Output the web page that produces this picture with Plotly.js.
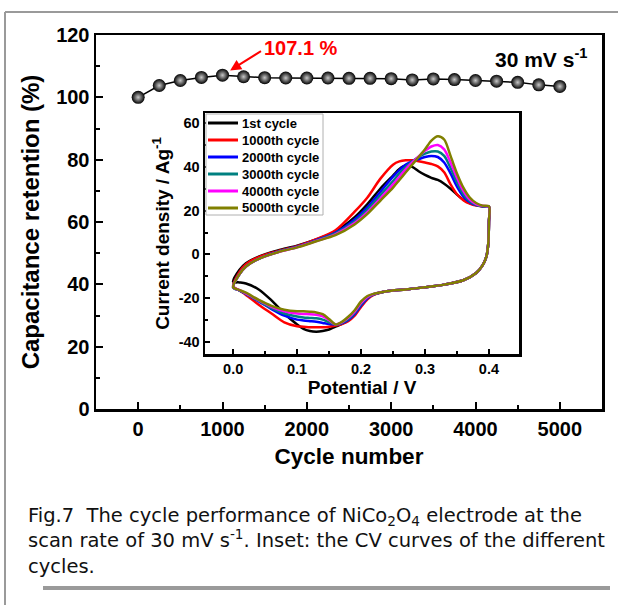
<!DOCTYPE html>
<html>
<head>
<meta charset="utf-8">
<script src="https://cdn.plot.ly/plotly-3.0.1.min.js"></script>
<style>html,body{margin:0;padding:0;background:#fff;}#chart{width:618px;height:605px;}</style>
</head>
<body>
<div id="chart"></div>
<script>
// ---- Main chart data: capacitance retention vs cycle number ----
const cycles = [0,250,500,750,1000,1250,1500,1750,2000,2250,2500,2750,3000,3250,3500,3750,4000,4250,4500,4750,5000];
const retention = [100.0,103.8,105.4,106.4,107.1,106.6,106.3,106.2,106.2,106.2,106.1,106.1,106.0,105.6,105.9,105.7,105.4,105.2,104.8,104.0,103.5];

// ---- Inset data: CV curves ----
const cycleNames = ['1st cycle','1000th cycle','2000th cycle','3000th cycle','4000th cycle','5000th cycle'];
const cycleColors = ['#000000','#ff0000','#0000ff','#008080','#ff00ff','#808000'];
const potUp   = [0.00,0.01,0.02,0.04,0.07,0.10,0.13,0.16,0.19,0.21,0.23,0.25,0.26,0.27,0.28,0.29,0.30,0.31,0.32,0.33,0.34,0.35,0.36,0.37,0.38,0.39,0.40];
const potDown = [0.40,0.399,0.396,0.39,0.38,0.36,0.33,0.30,0.27,0.24,0.22,0.21,0.20,0.19,0.18,0.17,0.16,0.15,0.14,0.13,0.12,0.11,0.10,0.08,0.06,0.04,0.02,0.01,0.00];

const up1st    = [-12.5,-7,-4,-1,1.8,4,6.8,10.5,17,23,30,36,39,40.7,40,38,36.3,35,34,32.3,30,27.3,25,23.4,22.5,22,21.8];
const up1000   = [-14.5,-8,-4.5,-1.2,1.5,3.8,7,11,19.5,26,34.5,41,42.5,43,43,42.6,42,41.3,40.2,37.5,32,27.5,24.8,23.2,22.3,22,21.8];
const up2000   = [-15,-9,-5.5,-2,1.2,3.5,6.5,10,16,21.5,28.5,35.5,38.5,41,42.5,43.5,44.5,45,44.5,42,37,31,26.5,23.8,22.5,22,21.8];
const up3000   = [-15,-9,-5.5,-2,1.1,3.4,6.3,9.6,15,20.5,27,33.5,37,40,42.5,44.5,46,47,47,45,39.5,33,27.5,24.3,22.7,22,21.8];
const up4000   = [-15,-9,-5.5,-2,1,3.3,6.1,9.2,14.3,19.3,25.5,32,35.5,39,42,44.8,47.3,49.3,50,48,42,35,29,25,23,22.2,21.8];
const up5000   = [-15,-9,-5.5,-2,1,3.2,6,8.8,13.7,18.5,24.5,30.5,34,37.5,41,44.5,48,52,54,52.5,45,37,30.5,26,23.5,22.3,22];

const down1st  = [15,5,-1,-5,-8.5,-11.8,-13.8,-15,-16,-16.8,-18.2,-19.8,-23,-27,-29.8,-31.8,-33,-34.3,-35,-35.3,-35,-34,-32,-27,-21,-16,-13.3,-12.8,-12.5];
const down1000 = [15,5,-1,-5,-8.5,-11.8,-13.8,-15,-16,-16.8,-18.5,-20.5,-24,-28,-30.5,-31.8,-32.5,-33,-33.3,-33.3,-33.3,-33,-32.8,-31,-27,-23,-18.5,-16.5,-14.5];
const down2000 = [15,5,-1,-5,-8.5,-11.8,-13.8,-15,-16,-16.8,-18.3,-20,-23.3,-27.3,-30,-31.5,-32,-31.8,-31.3,-30.8,-30.5,-30.2,-29.8,-28,-25,-21.5,-18,-16.5,-15];
const down3000 = [15,5,-1,-5,-8.5,-11.8,-13.8,-15,-16,-16.8,-18.2,-19.7,-22.7,-26.7,-29.5,-31.3,-32,-31,-29.8,-29.2,-29,-28.8,-28.4,-27,-24.5,-21.3,-18,-16.5,-15];
const down4000 = [15,5,-1,-5,-8.5,-11.8,-13.8,-15,-16,-16.8,-18.1,-19.4,-22.2,-26.2,-29,-31,-32,-30,-28.3,-27.6,-27.3,-27.2,-27,-26,-24,-21,-17.8,-16.3,-15];
const down5000 = [15,5,-1,-5,-8.5,-11.8,-13.8,-15,-16,-16.8,-18,-19,-21.5,-25.5,-28.5,-30.8,-32,-29.5,-27.3,-26.5,-26.2,-26,-26,-25.3,-23.5,-20.8,-17.5,-16.3,-15];

const cvUp = [up1st, up1000, up2000, up3000, up4000, up5000];
const cvDown = [down1st, down1000, down2000, down3000, down4000, down5000];

// inset tick labels (hyphen minus as in the original)
const insetYTicks = [-40,-20,0,20,40,60];
const insetYLabels = ['-40','-20','0','20','40','60'];

// caption lines
const captionLines = [
  'Fig.7\u00a0 The cycle performance of NiCo<sub>2</sub>O<sub>4</sub> electrode at the',
  'scan rate of 30 mV s<sup>-1</sup>. Inset: the CV curves of the different',
  'cycles.'
];

const FONT = 'Liberation Sans, Arial, sans-serif';
const bold = (size, color) => ({family: FONT, size: size, color: color || '#000', weight: 700});

const traces = [];
traces.push({
  x: cycles, y: retention, xaxis: 'x', yaxis: 'y', type: 'scatter', mode: 'lines+markers',
  showlegend: false,
  line: {color: '#000', width: 1.5},
  marker: {size: 13, color: '#000', gradient: {type: 'radial', color: '#c8c8c8'}, line: {width: 0}}
});
for (let i = 0; i < cycleNames.length; i++) {
  traces.push({
    x: potUp.concat(potDown), y: cvUp[i].concat(cvDown[i]),
    xaxis: 'x2', yaxis: 'y2', type: 'scatter', mode: 'lines',
    name: cycleNames[i], showlegend: false,
    line: {color: cycleColors[i], width: 2.5, shape: 'spline', smoothing: 0.8}
  });
}

// peak annotation from data
let peakIdx = 0;
retention.forEach((v, i) => { if (v > retention[peakIdx]) peakIdx = i; });
const peakX = cycles[peakIdx], peakY = retention[peakIdx];

// pixel -> paper helpers (plot area 96..602 x 35..409)
const L = 96, T = 35, W = 506, H = 374;
const px = p => (p - L) / W;
const py = p => (T + H - p) / H;

const shapes = [
  {type: 'line', xref: 'paper', yref: 'paper', x0: px(5), x1: px(5), y0: py(12), y1: py(605), line: {color: '#9a9a9a', width: 2}},
  {type: 'line', xref: 'paper', yref: 'paper', x0: px(5), x1: px(618), y0: py(12), y1: py(12), line: {color: '#9a9a9a', width: 2}},
  {type: 'rect', xref: 'paper', yref: 'paper', x0: px(43), x1: px(610), y0: py(586), y1: py(590), fillcolor: '#9a9a9a', line: {width: 0}},
  // inset legend box
  {type: 'rect', xref: 'paper', yref: 'paper', x0: px(206), x1: px(323), y0: py(215), y1: py(114), fillcolor: '#fff', line: {color: '#b0b0b0', width: 1}}
];

const annotations = [
  {xref: 'x', yref: 'y', x: peakX, y: peakY, text: '', showarrow: true,
   ax: 40, ay: -25, arrowhead: 2, arrowsize: 1.1, arrowwidth: 2, arrowcolor: '#ff0000', standoff: 9},
  {xref: 'paper', yref: 'paper', x: px(262), y: py(48), xanchor: 'left', yanchor: 'middle',
   text: peakY.toFixed(1) + ' %', showarrow: false, font: bold(20, '#ff0000')},
  {xref: 'paper', yref: 'paper', x: px(589), y: py(58), xanchor: 'right', yanchor: 'middle',
   text: '30 mV s<sup>-1</sup>', showarrow: false, font: bold(21)},
  {xref: 'paper', yref: 'paper', x: px(26), y: py(541), xanchor: 'left', yanchor: 'middle', align: 'left',
   text: captionLines.join('<br>'), showarrow: false,
   font: {family: 'DejaVu Sans, sans-serif', size: 19.5, color: '#111'}}
];

// inset legend entries (line sample + label) built from the series names/colours
for (let i = 0; i < cycleNames.length; i++) {
  const yy = py(123 + 17 * i);
  shapes.push({type: 'line', xref: 'paper', yref: 'paper', x0: px(208), x1: px(238), y0: yy, y1: yy,
               line: {color: cycleColors[i], width: 3}});
  annotations.push({xref: 'paper', yref: 'paper', x: px(240), y: yy, xanchor: 'left', yanchor: 'middle',
                    text: cycleNames[i], showarrow: false, font: bold(13)});
}

const layout = {
  width: 618, height: 605,
  margin: {l: L, r: 618 - L - W, t: T, b: 605 - T - H, pad: 0},
  paper_bgcolor: '#fff', plot_bgcolor: '#fff',
  showlegend: false,
  xaxis: {
    domain: [0, 1], anchor: 'y', range: [-500, 5500],
    tick0: 0, dtick: 1000, ticks: 'inside', ticklen: 7, tickwidth: 2, tickcolor: '#000',
    minor: {dtick: 500, ticks: 'inside', ticklen: 4, tickwidth: 2, tickcolor: '#000'},
    showline: true, linewidth: 2.5, linecolor: '#000', mirror: true,
    showgrid: false, zeroline: false, tickfont: bold(20),
    title: {text: 'Cycle number', font: bold(22.5), standoff: 10}
  },
  yaxis: {
    domain: [0, 1], anchor: 'x', range: [0, 120],
    tick0: 0, dtick: 20, ticks: 'inside', ticklen: 7, tickwidth: 2, tickcolor: '#000',
    minor: {dtick: 10, ticks: 'inside', ticklen: 4, tickwidth: 2, tickcolor: '#000'},
    showline: true, linewidth: 2.5, linecolor: '#000', mirror: true,
    showgrid: false, zeroline: false, tickfont: bold(20),
    title: {text: 'Capacitance retention (%)', font: bold(24), standoff: 10}
  },
  xaxis2: {
    domain: [px(205), px(519)], anchor: 'y2', range: [-0.044, 0.447],
    tick0: 0, dtick: 0.1, tickformat: '.1f', ticks: 'inside', ticklen: 5, tickwidth: 2, tickcolor: '#000',
    minor: {dtick: 0.05, ticks: 'inside', ticklen: 3, tickwidth: 2, tickcolor: '#000'},
    showline: true, linewidth: 2.5, linecolor: '#000', mirror: true,
    showgrid: false, zeroline: false, tickfont: bold(14.5),
    title: {text: 'Potential / V', font: bold(19), standoff: 4}
  },
  yaxis2: {
    domain: [py(354), py(113)], anchor: 'x2', range: [-45.5, 64.6],
    tickmode: 'array', tickvals: insetYTicks, ticktext: insetYLabels,
    ticks: 'inside', ticklen: 5, tickwidth: 2, tickcolor: '#000',
    minor: {tickvals: [-30,-10,10,30,50], ticks: 'inside', ticklen: 3, tickwidth: 2, tickcolor: '#000'},
    showline: true, linewidth: 2.5, linecolor: '#000', mirror: true,
    showgrid: false, zeroline: false, tickfont: bold(14.5),
    title: {text: 'Current density / Ag<sup>-1</sup>', font: bold(19), standoff: 4}
  },
  annotations: annotations,
  shapes: shapes
};

Plotly.newPlot('chart', traces, layout, {displayModeBar: false, staticPlot: true});
</script>
</body>
</html>
